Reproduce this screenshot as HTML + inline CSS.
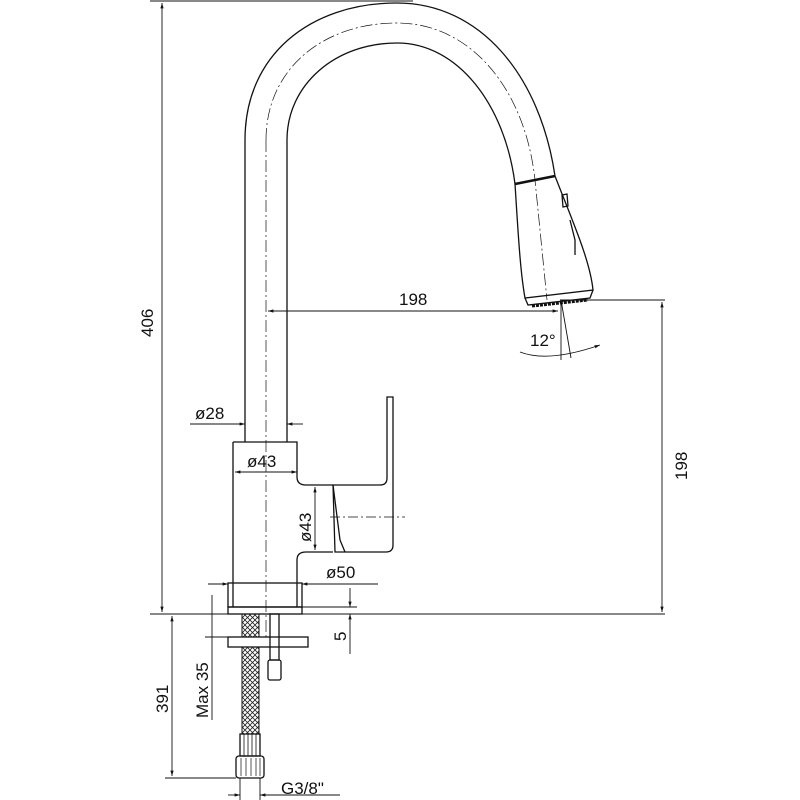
<!DOCTYPE html>
<html><head><style>body{margin:0;background:#fff}svg{display:block}text{font-family:"Liberation Sans",sans-serif;fill:#111}</style></head>
<body>
<svg width="800" height="800" viewBox="0 0 800 800" xmlns="http://www.w3.org/2000/svg">
<defs>
<marker id="a" viewBox="0 0 10 10" refX="10" refY="5" markerWidth="9" markerHeight="6" orient="auto-start-reverse"><path d="M0,2 L10,5 L0,8 z" fill="#111"/></marker>
<pattern id="mesh" width="5" height="5" patternUnits="userSpaceOnUse"><path d="M0,0 L5,5 M5,0 L0,5" stroke="#222" stroke-width="0.8"/></pattern>
</defs>
<g fill="none" stroke="#111" stroke-width="1.3">
<path d="M245,442 L245,140 C245,55 310,3 397,3 C480,3 540,75 555,176"/>
<path d="M287,442 L287,140 C287,85 335,43 397,43 C458,43 505,105 515,184"/>
<path d="M266,140 C266,70 322,23 397,23 C470,23 525,88 535,180 L547,300" stroke-width="0.7" stroke-dasharray="12,3,2,3"/>
<line x1="266" y1="140" x2="266" y2="640" stroke-width="0.7" stroke-dasharray="12,3,2,3"/>
<path d="M515,184 L555,176" stroke-width="2.5"/>
<path d="M515,184 C518,230 520,270 525,298 L593,290 C590,260 572,220 555,176"/>
<path d="M525,298 L528,305 L590,298 L593,290"/>
<path d="M562,195 L567,194 L568,206 L563,207 Z M570,220 L575,240 L575,255"/>
<path d="M532,306 L588,300" stroke-dasharray="3,1" stroke-width="3"/>
<path d="M233,442 L297,442 L297,477 Q297,485 306,485 L333,485"/>
<path d="M233,442 L233,607 M297,607 L297,560 Q297,552 306,552 L333,552"/>
<path d="M387,397 L393,397 L393,545 Q393,552 386,552 L345,552 L335,552 L333,485 L380,485 Q387,485 387,478 Z"/>
<path d="M333,485 L340,540 L345,552"/>
<line x1="330" y1="517" x2="405" y2="517" stroke-width="0.7" stroke-dasharray="10,3,2,3"/>
<rect x="228" y="583" width="74" height="24"/>
<rect x="228" y="607" width="74" height="7"/>
<line x1="150" y1="614" x2="665" y2="614" stroke-width="1"/>
<rect x="242" y="614" width="17" height="120" fill="url(#mesh)" stroke-width="1"/>
<rect x="228" y="637" width="80" height="10" fill="#fff"/>
<rect x="270" y="614" width="9" height="46"/>
<rect x="268" y="660" width="13" height="20" rx="2"/>
<rect x="240" y="734" width="20" height="22"/>
<path d="M244,734 v22 M248,734 v22 M252,734 v22 M256,734 v22" stroke-width="0.8"/>
<rect x="236" y="756" width="28" height="22" rx="3"/>
<path d="M241,758 v18 M246,758 v18 M251,758 v18 M256,758 v18 M260,758 v18" stroke-width="0.7"/>
</g>
<g stroke="#111" stroke-width="0.9" fill="none">
<line x1="150" y1="1" x2="413" y2="1"/>
<line x1="162" y1="3" x2="162" y2="612" marker-start="url(#a)" marker-end="url(#a)"/>
<line x1="268" y1="311" x2="558" y2="311" marker-start="url(#a)" marker-end="url(#a)"/>
<line x1="560" y1="300" x2="665" y2="300"/>
<line x1="662" y1="302" x2="662" y2="612" marker-start="url(#a)" marker-end="url(#a)"/>
<line x1="561" y1="300" x2="561" y2="360"/>
<line x1="561" y1="300" x2="571" y2="358"/>
<path d="M520,352 Q548,363 600,345" marker-end="url(#a)"/>
<line x1="190" y1="424" x2="245" y2="424" marker-end="url(#a)"/>
<line x1="303" y1="424" x2="287" y2="424" marker-end="url(#a)"/>
<line x1="235" y1="472" x2="297" y2="472" marker-start="url(#a)" marker-end="url(#a)"/>
<line x1="315" y1="487" x2="315" y2="550" marker-start="url(#a)" marker-end="url(#a)"/>
<line x1="208" y1="584" x2="228" y2="584" marker-end="url(#a)"/>
<line x1="378" y1="584" x2="302" y2="584" marker-end="url(#a)"/>
<line x1="350" y1="588" x2="350" y2="607" marker-end="url(#a)"/>
<line x1="350" y1="654" x2="350" y2="614" marker-end="url(#a)"/>
<line x1="302" y1="607" x2="357" y2="607"/>
<line x1="212" y1="595" x2="212" y2="720"/>
<line x1="205" y1="637" x2="228" y2="637"/>
<line x1="172" y1="616" x2="172" y2="776" marker-start="url(#a)" marker-end="url(#a)"/>
<line x1="165" y1="778" x2="236" y2="778"/>
<line x1="240" y1="778" x2="240" y2="800"/><line x1="260" y1="778" x2="260" y2="800"/>
<line x1="228" y1="795" x2="240" y2="795" marker-end="url(#a)"/>
<line x1="340" y1="795" x2="260" y2="795" marker-end="url(#a)"/>
</g>
<g font-size="17">
<text x="399" y="305">198</text>
<text x="530" y="346">12°</text>
<text x="195" y="419">ø28</text>
<text x="247" y="467">ø43</text>
<text x="326" y="578">ø50</text>
<text x="281" y="794">G3/8"</text>
<text transform="translate(153,337) rotate(-90)">406</text>
<text transform="translate(687,480) rotate(-90)">198</text>
<text transform="translate(311,542) rotate(-90)">ø43</text>
<text transform="translate(346,641) rotate(-90)">5</text>
<text transform="translate(208,718) rotate(-90)">Max 35</text>
<text transform="translate(168,713) rotate(-90)">391</text>
</g>
</svg>
</body></html>
